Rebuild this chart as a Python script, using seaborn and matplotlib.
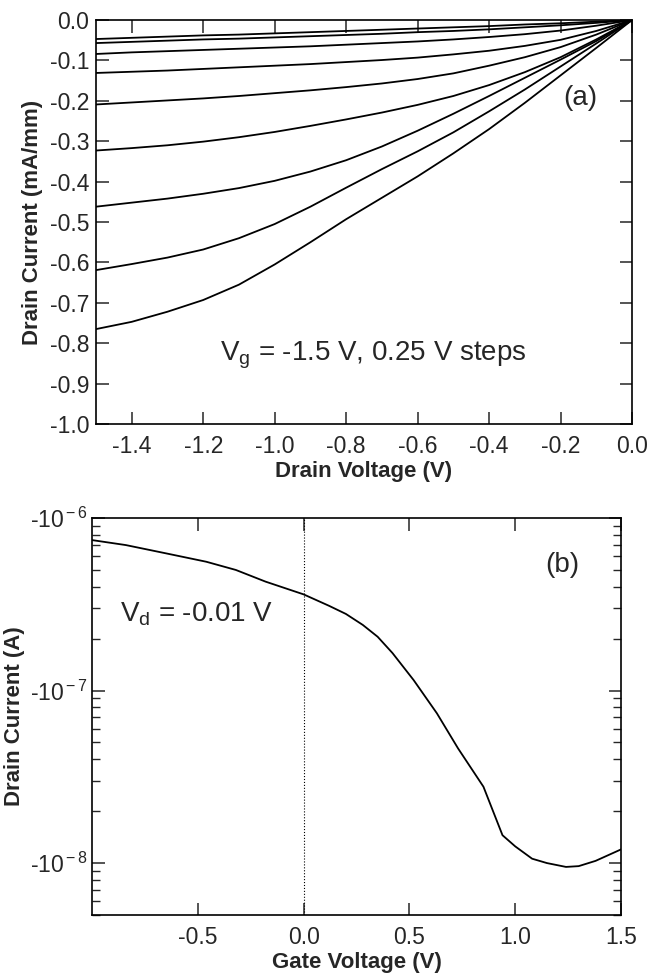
import numpy as np
import pandas as pd
import matplotlib
matplotlib.use('Agg')
import matplotlib.pyplot as plt
import matplotlib.ticker as mticker
import seaborn as sns

# ---- data ----
# (a) output curves, Vg = -1.5 V and up in 0.25 V steps
drain_v = [-1.5, -1.4, -1.3, -1.2, -1.1, -1.0, -0.9, -0.8, -0.7, -0.6, -0.5, -0.4, -0.3, -0.2, -0.1, 0.0]
gate_steps = [-1.5, -1.25, -1.0, -0.75, -0.5, -0.25, 0.0, 0.25, 0.5]
id_vg_m150 = [-0.765, -0.747, -0.722, -0.693, -0.655, -0.605, -0.550, -0.493, -0.440, -0.387, -0.330, -0.270, -0.205, -0.137, -0.069, 0.0]
id_vg_m125 = [-0.619, -0.604, -0.588, -0.568, -0.540, -0.505, -0.462, -0.415, -0.369, -0.325, -0.278, -0.226, -0.172, -0.115, -0.058, 0.0]
id_vg_m100 = [-0.462, -0.452, -0.442, -0.430, -0.416, -0.398, -0.375, -0.347, -0.313, -0.274, -0.232, -0.188, -0.143, -0.098, -0.052, 0.0]
id_vg_m075 = [-0.323, -0.317, -0.310, -0.301, -0.290, -0.277, -0.262, -0.246, -0.229, -0.210, -0.188, -0.161, -0.129, -0.092, -0.048, 0.0]
id_vg_m050 = [-0.209, -0.204, -0.199, -0.194, -0.188, -0.181, -0.174, -0.166, -0.157, -0.146, -0.132, -0.113, -0.092, -0.067, -0.036, 0.0]
id_vg_m025 = [-0.131, -0.128, -0.125, -0.121, -0.117, -0.113, -0.109, -0.104, -0.099, -0.093, -0.085, -0.076, -0.064, -0.049, -0.027, 0.0]
id_vg_000 = [-0.084, -0.080, -0.077, -0.074, -0.071, -0.068, -0.065, -0.061, -0.057, -0.053, -0.048, -0.042, -0.035, -0.026, -0.014, 0.0]
id_vg_p025 = [-0.057, -0.054, -0.051, -0.048, -0.046, -0.043, -0.040, -0.037, -0.034, -0.030, -0.027, -0.023, -0.018, -0.013, -0.007, 0.0]
id_vg_p050 = [-0.047, -0.044, -0.041, -0.038, -0.036, -0.033, -0.030, -0.027, -0.024, -0.021, -0.018, -0.015, -0.011, -0.008, -0.004, 0.0]

# (b) transfer curve at Vd = -0.01 V
gate_v = [-1.0, -0.84, -0.65, -0.46, -0.32, -0.18, 0.0, 0.12, 0.2, 0.28, 0.35, 0.42, 0.52,
          0.63, 0.73, 0.85, 0.94, 1.0, 1.08, 1.15, 1.24, 1.3, 1.38, 1.5]
drain_i = [-7.45e-7, -6.97e-7, -6.24e-7, -5.58e-7, -5.0e-7, -4.28e-7, -3.61e-7, -3.1e-7, -2.78e-7,
           -2.4e-7, -2.05e-7, -1.65e-7, -1.15e-7, -7.38e-8, -4.62e-8, -2.77e-8, -1.45e-8, -1.25e-8,
           -1.06e-8, -1.0e-8, -9.5e-9, -9.6e-9, -1.03e-8, -1.2e-8]

curves = [id_vg_m150, id_vg_m125, id_vg_m100, id_vg_m075, id_vg_m050,
          id_vg_m025, id_vg_000, id_vg_p025, id_vg_p050]
df_a = pd.concat([pd.DataFrame({'vd': drain_v, 'id': c, 'vg': g})
                  for c, g in zip(curves, gate_steps)], ignore_index=True)
df_b = pd.DataFrame({'vg': gate_v, 'id': np.abs(drain_i)})

sns.set_style('ticks')
plt.rcParams['font.family'] = ['Liberation Sans', 'DejaVu Sans']
plt.rcParams['axes.unicode_minus'] = False
plt.rcParams['mathtext.fontset'] = 'custom'
plt.rcParams['mathtext.rm'] = 'Liberation Sans'
plt.rcParams['mathtext.it'] = 'Liberation Sans'


def one_dec(v, p):
    # avoid "-0.0"
    return '%.1f' % (0.0 if abs(v) < 1e-9 else v)


fig = plt.figure(figsize=(6.57, 9.73), dpi=100)
ax1 = fig.add_axes([0.1461, 0.5642, 0.9620 - 0.1461, 0.9794 - 0.5642])
ax2 = fig.add_axes([0.1400, 0.0596, 0.9452 - 0.1400, 0.4676 - 0.0596])

# panel (a)
sns.lineplot(data=df_a, x='vd', y='id', units='vg', estimator=None,
             color='black', lw=1.3, ax=ax1)
ax1.set_xlim(-1.5, 0.0)
ax1.set_ylim(-1.0, 0.0)
ax1.set_xticks([-1.4, -1.2, -1.0, -0.8, -0.6, -0.4, -0.2, 0.0])
ax1.set_yticks([-1.0, -0.9, -0.8, -0.7, -0.6, -0.5, -0.4, -0.3, -0.2, -0.1, 0.0])
ax1.xaxis.set_major_formatter(mticker.FuncFormatter(one_dec))
ax1.yaxis.set_major_formatter(mticker.FuncFormatter(one_dec))
ax1.set_xlabel('Drain Voltage (V)', fontsize=16, fontweight='bold', labelpad=2)
ax1.set_ylabel('Drain Current (mA/mm)', fontsize=16, fontweight='bold', labelpad=5)
ax1.text(-0.146, -0.193, '(a)', fontsize=20, ha='center', va='center')
ax1.text(-1.153, -0.842, r'V$_{\rm g}$ = -1.5 V, 0.25 V steps', fontsize=20,
         ha='left', va='baseline')
ax1.tick_params(axis='both', which='major', direction='in', length=9, width=1.1,
                top=True, right=True, labelsize=16.5)
ax1.tick_params(axis='x', pad=8)
ax1.tick_params(axis='y', pad=5)

# panel (b)
sns.lineplot(data=df_b, x='vg', y='id', color='black', lw=1.3, ax=ax2)
ax2.axvline(0.0, color='black', ls=':', lw=0.8)
ax2.set_yscale('log')
ax2.set_xlim(-1.0, 1.5)
ax2.set_ylim(5e-9, 1e-6)
ax2.set_xticks([-0.5, 0.0, 0.5, 1.0, 1.5])
ax2.xaxis.set_major_formatter(mticker.FuncFormatter(one_dec))
ax2.yaxis.set_major_locator(mticker.FixedLocator([1e-8, 1e-7, 1e-6]))
ax2.yaxis.set_minor_locator(mticker.LogLocator(base=10, subs=np.arange(2, 10)))
ax2.yaxis.set_minor_formatter(mticker.NullFormatter())
ax2.yaxis.set_major_formatter(mticker.FuncFormatter(
    lambda v, p: r'-10$^{\rm %d}$' % int(round(np.log10(v)))))
ax2.set_xlabel('Gate Voltage (V)', fontsize=16, fontweight='bold', labelpad=2)
ax2.set_ylabel('Drain Current (A)', fontsize=16, fontweight='bold', labelpad=3)
ax2.text(1.222, 5.34e-7, '(b)', fontsize=20, ha='center', va='center')
ax2.text(-0.868, 2.5e-7, r'V$_{\rm d}$ = -0.01 V', fontsize=20, ha='left', va='baseline')
ax2.tick_params(axis='both', which='major', direction='in', length=9, width=1.1,
                top=True, right=True, labelsize=16.5)
ax2.tick_params(axis='y', which='minor', direction='in', length=6, width=1.0,
                left=True, right=True)
ax2.tick_params(axis='x', which='minor', bottom=False, top=False)
ax2.tick_params(axis='x', pad=8)
ax2.tick_params(axis='y', pad=3)

for ax in (ax1, ax2):
    for s in ax.spines.values():
        s.set_visible(True)
        s.set_linewidth(1.2)
        s.set_color('black')

fig.savefig('out.png', dpi=100)
